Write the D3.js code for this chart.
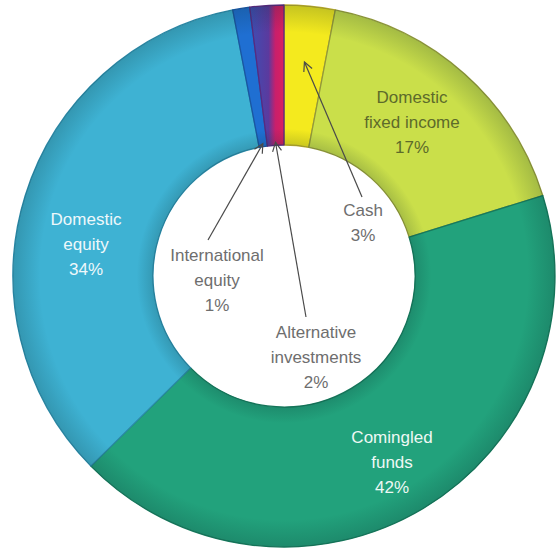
<!DOCTYPE html>
<html>
<head>
<meta charset="utf-8">
<script src="https://cdn.jsdelivr.net/npm/d3@7"></script>
<style>
  html, body { margin: 0; padding: 0; background: #ffffff; }
  svg { display: block; }
</style>
</head>
<body>
<div id="chart"></div>
<script>
// Asset allocation, share of total (%)
const categories = ["Cash", "Domestic fixed income", "Comingled funds", "Domestic equity", "International equity", "Alternative investments"];
const shares = [3, 17, 42, 34, 1, 2];
const labelLines = [
  ["Cash"],
  ["Domestic", "fixed income"],
  ["Comingled", "funds"],
  ["Domestic", "equity"],
  ["International", "equity"],
  ["Alternative", "investments"]
];

// Styling and layout, kept apart from the data
const fills = ["#f4ea1e", "#cadf4a", "#22a27c", "#3eb2d3", "#1f6fd2", "url(#altGrad)"];
const strokes = ["#b7a92c", "#93993a", "#177a5d", "#2b8aa9", "#1a56a2", "#5a2a80"];
const textColors = ["#6e6e6e", "#5d6b2a", "#eef8f4", "#eef8fb", "#6e6e6e", "#6e6e6e"];
// label block centre relative to the donut centre
const labelOffsets = [[79, -53], [128, -154], [108, 186], [-198, -32], [-67, 4], [32, 81]];
// which slices get a pointer, where it starts (relative to centre) and how deep the tip sits
const pointers = [
  { index: 0, from: [78, -79], tipRadius: 215 },
  { index: 4, from: [-76, -36], tipRadius: 134 },
  { index: 5, from: [22, 41], tipRadius: 134 }
];

const W = 560, H = 552;
const cx = 284, cy = 276;
const outerR = 271, innerR = 131;
const fontSize = 17, lineGap = 25;

const svg = d3.select("#chart").append("svg")
  .attr("width", W).attr("height", H)
  .attr("viewBox", `0 0 ${W} ${H}`);

const defs = svg.append("defs");

const alt = defs.append("linearGradient")
  .attr("id", "altGrad")
  .attr("x1", "0").attr("x2", "1").attr("y1", "0").attr("y2", "0");
alt.append("stop").attr("offset", "0%").attr("stop-color", "#3d4fb4");
alt.append("stop").attr("offset", "55%").attr("stop-color", "#5b3a9e");
alt.append("stop").attr("offset", "75%").attr("stop-color", "#c81f6c");
alt.append("stop").attr("offset", "100%").attr("stop-color", "#dc1f5e");

// soft rim shading along the inner and outer edges of the ring
const rim = defs.append("radialGradient")
  .attr("id", "rimShade")
  .attr("gradientUnits", "userSpaceOnUse")
  .attr("cx", 0).attr("cy", 0).attr("r", outerR);
[[innerR / outerR, 0.18], [innerR / outerR + 0.06, 0.0], [0.9, 0.0], [1.0, 0.2]].forEach(([o, a]) => {
  rim.append("stop").attr("offset", o).attr("stop-color", "#0a2a2a").attr("stop-opacity", a);
});

defs.append("marker")
  .attr("id", "openArrow")
  .attr("viewBox", "-10 -6 12 12")
  .attr("refX", 0).attr("refY", 0)
  .attr("markerWidth", 12).attr("markerHeight", 12)
  .attr("markerUnits", "userSpaceOnUse")
  .attr("orient", "auto")
  .append("path")
  .attr("d", "M-9,-4.5 L0,0 L-9,4.5")
  .attr("fill", "none")
  .attr("stroke", "#4a4a4a")
  .attr("stroke-width", 1.2);

const g = svg.append("g").attr("transform", `translate(${cx},${cy})`);

const pie = d3.pie().sort(null).value(d => d).startAngle(0).endAngle(2 * Math.PI);
const arcs = pie(shares);

const arc = d3.arc().innerRadius(innerR).outerRadius(outerR);

g.selectAll("path.slice")
  .data(arcs)
  .join("path")
  .attr("class", "slice")
  .attr("d", arc)
  .attr("fill", (d, i) => fills[i])
  .attr("stroke", (d, i) => strokes[i])
  .attr("stroke-width", 1.3)
  .attr("stroke-linejoin", "round");

// rim shading over the whole ring
g.append("path")
  .attr("d", d3.arc().innerRadius(innerR).outerRadius(outerR).startAngle(0).endAngle(2 * Math.PI)())
  .attr("fill", "url(#rimShade)")
  .attr("pointer-events", "none");

// pointers from hole labels to their slices
pointers.forEach(p => {
  const a = arcs[p.index];
  const tip = d3.arc().innerRadius(p.tipRadius).outerRadius(p.tipRadius).centroid(a);
  g.append("line")
    .attr("x1", p.from[0]).attr("y1", p.from[1])
    .attr("x2", tip[0]).attr("y2", tip[1])
    .attr("stroke", "#4a4a4a")
    .attr("stroke-width", 1.2)
    .attr("marker-end", "url(#openArrow)");
});

// labels: name lines followed by the share
const labels = g.selectAll("text.label")
  .data(arcs)
  .join("text")
  .attr("class", "label")
  .attr("font-family", "'Liberation Sans', Arial, sans-serif")
  .attr("font-size", fontSize)
  .attr("text-anchor", "middle")
  .attr("fill", (d, i) => textColors[i]);

labels.each(function (d, i) {
  const lines = labelLines[i].concat([`${d.data}%`]);
  const [ox, oy] = labelOffsets[i];
  const top = oy - (lines.length - 1) * lineGap / 2;
  d3.select(this).selectAll("tspan")
    .data(lines)
    .join("tspan")
    .attr("x", ox)
    .attr("y", (t, k) => top + k * lineGap)
    .attr("dy", "0.35em")
    .text(t => t);
});
</script>
</body>
</html>
